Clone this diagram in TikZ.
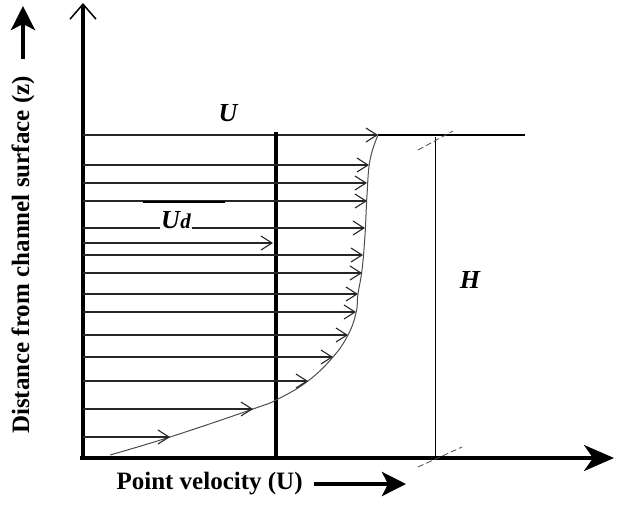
\documentclass[tikz,border=0pt]{standalone}
\usepackage{fontspec}
\setmainfont{Liberation Serif}
\usetikzlibrary{arrows.meta,positioning,calc}

\begin{document}
\begin{tikzpicture}[
    x=1pt, y=-1pt,
    axis/.style={line width=3.5pt},
    flow/.style={line width=1.1pt, black!85, -{Straight Barb[length=11pt,width=14pt,line width=1.1pt]}},
    profile/.style={line width=1pt, black!70},
    dimtick/.style={line width=0.8pt, black!70, dash pattern=on 6pt off 3pt},
    sym/.style={font=\fontsize{26}{26}\selectfont\bfseries\itshape},
    axlabel/.style={font=\fontsize{25}{25}\selectfont\bfseries},
    bigarrow/.style={line width=4pt, -{Stealth[length=24pt,width=24pt,inset=6pt]}}
  ]
  \useasboundingbox (0,0) rectangle (617,504);

  % Axes
  \coordinate (O) at (83,458);
  \coordinate (ztop) at (83,3);
  \coordinate (xstart) at (80,458);
  \coordinate (xend) at (614,458);
  \draw[axis, -{Straight Barb[length=15pt,width=26pt,line width=1.5pt]}] (O) -- (ztop);
  \draw[axis, -{Stealth[length=30pt,width=26pt,inset=9pt]}] (xstart) -- (xend);

  % Water surface and mean velocity
  \coordinate (surfL) at (83,135);
  \coordinate (surfU) at (378,135);
  \coordinate (surfR) at (525,135);
  \draw[flow] (surfL) -- (surfU);
  \draw[line width=1.1pt] (surfU) -- (surfR);
  \draw[line width=4.5pt] (276,132) -- (276,460);

  % Velocity profile
  \draw[profile] plot[smooth, tension=0.7] coordinates {(378,135) (370,160) (367,195) (365,235) (362,270) (358,294) (356,313) (348,335) (333,357) (308,381) (278,399) (253,409) (170,437) (110,455)};
  \foreach \y/\x in {165/369, 183/367, 201/367, 228/365, 255/363, 273/362, 294/358, 312/356, 335/348, 357/333, 381/308, 409/253, 437/170}
    \draw[flow] (83,\y) -- (\x,\y);
  \draw[flow] (83,243) -- (273,243);
  \draw[line width=1.6pt] (143,202) -- (225,202);

  % Labels
  \node[sym] (Ulbl) at (228,113) {U};
  \node[sym, fill=white, inner sep=1pt] (Udlbl) at (176,220) {U\kern0.5pt{\fontsize{21}{21}\selectfont d}};
  \node[sym] (Hlbl) at (470,280) {H};

  % Depth
  \coordinate (Htop) at (435,137);
  \coordinate (Hbot) at (435,456);
  \draw[line width=1pt] (Htop) -- (Hbot);
  \draw[dimtick] (418,150) -- (453,131);
  \draw[dimtick] (418,467) -- (462,447);

  % Axis labels
  \node[axlabel, rotate=90] (zlbl) at (23,255) {Distance from channel surface (z)};
  \coordinate (ztip) at (23,6);
  \draw[bigarrow, shorten <=14pt] (zlbl.east) -- (ztip);
  \node[axlabel, anchor=west] (xlbl) at (113,484) {Point velocity (U)};
  \coordinate (xtip) at (406,484);
  \draw[bigarrow, shorten <=8pt] (xlbl.east) -- (xtip);
\end{tikzpicture}
\end{document}
